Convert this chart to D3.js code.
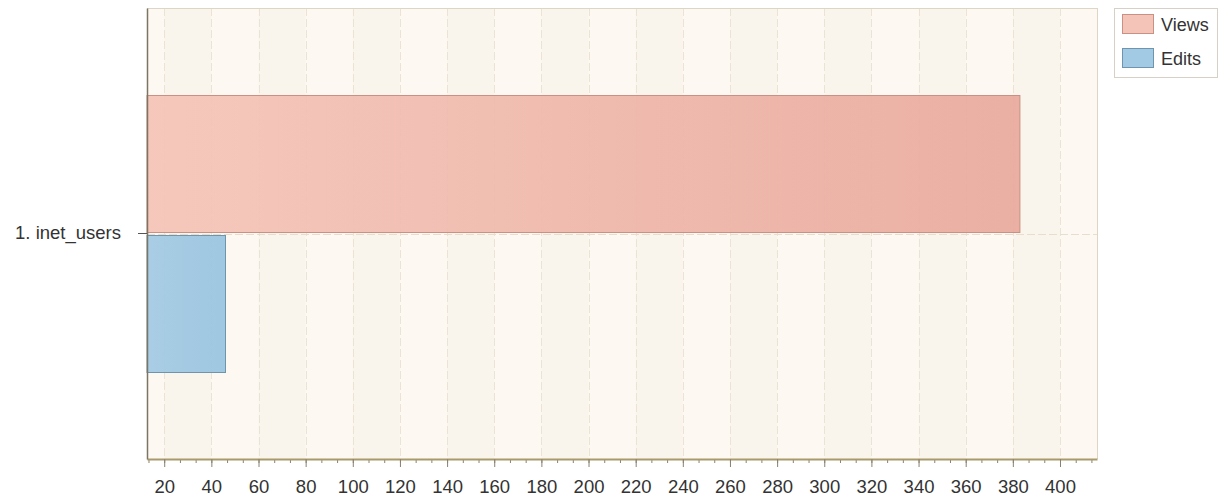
<!DOCTYPE html>
<html><head><meta charset="utf-8">
<script src="https://cdn.jsdelivr.net/npm/d3@7"></script>
<style>body{margin:0;background:#fff;} svg{display:block;}</style>
</head><body>
<svg id="chart" width="1221" height="500"></svg>
<script>
const categories = ["1. inet_users"];
const seriesNames = ["Views", "Edits"];
const views = [383];
const edits = [46];
const xMajorTicks = [20,40,60,80,100,120,140,160,180,200,220,240,260,280,300,320,340,360,380,400];
const xDomain = [12.7, 415.7];
const colors = {Views: ["#f5c4b8", "#e9aa9d"], Edits: ["#a2cae4", "#99c4e0"]};
const strokes = {Views: "#c99083", Edits: "#6e95ad"};

(function(){
const svg = d3.select("#chart");
const pLeft = 147, pRight = 1097, pTop = 8, pBottom = 459;
const font = "'Liberation Sans', Arial, sans-serif";
const x = d3.scaleLinear().domain(xDomain).range([pLeft, pRight]);
const y = d3.scaleBand().domain(categories).range([pTop, pBottom]).paddingInner(0).paddingOuter(0.314);
const ys = d3.scaleBand().domain(seriesNames).range([0, y.bandwidth()]).paddingInner(0.022);

const defs = svg.append("defs");
seriesNames.forEach((s,i)=>{
  const g = defs.append("linearGradient").attr("id","grad"+i).attr("x1","0%").attr("x2","100%");
  g.append("stop").attr("offset","0%").attr("stop-color",colors[s][0]);
  g.append("stop").attr("offset","100%").attr("stop-color",colors[s][1]);
});

svg.append("rect").attr("x",pLeft).attr("y",pTop).attr("width",pRight-pLeft).attr("height",pBottom-pTop).attr("fill","#fdf9f2");
const bounds = [xDomain[0], ...xMajorTicks, xDomain[1]];
for (let i=0;i<bounds.length-1;i++){
  if (i%2===1) svg.append("rect").attr("x",x(bounds[i])).attr("y",pTop).attr("width",x(bounds[i+1])-x(bounds[i])).attr("height",pBottom-pTop).attr("fill","#faf5ec");
}
svg.append("g").selectAll("line").data(xMajorTicks).join("line")
  .attr("x1",d=>Math.round(x(d))+0.5).attr("x2",d=>Math.round(x(d))+0.5).attr("y1",pTop).attr("y2",pBottom)
  .attr("stroke","#ebe4d6").attr("stroke-width",1).attr("stroke-dasharray","8,3");
svg.append("g").selectAll("line").data(categories).join("line")
  .attr("x1",pLeft).attr("x2",pRight).attr("y1",d=>Math.round(y(d)+y.bandwidth()/2)+0.5).attr("y2",d=>Math.round(y(d)+y.bandwidth()/2)+0.5)
  .attr("stroke","#e6dfd0").attr("stroke-dasharray","8,3");
svg.append("line").attr("x1",pLeft).attr("x2",pRight).attr("y1",pTop+0.5).attr("y2",pTop+0.5).attr("stroke","#ddd5c5");
svg.append("line").attr("x1",pRight+0.5).attr("x2",pRight+0.5).attr("y1",pTop).attr("y2",pBottom).attr("stroke","#ddd5c5");

const data = [{s:"Views", vals: views, i:0},{s:"Edits", vals: edits, i:1}];
data.forEach(ser=>{
  svg.append("g").selectAll("rect").data(categories).join("rect")
    .attr("x", x(xDomain[0]))
    .attr("y", (c)=>Math.round(y(c)+ys(ser.s))+0.5)
    .attr("width", (c,j)=>x(ser.vals[j])-x(xDomain[0]))
    .attr("height", Math.round(ys.bandwidth()))
    .attr("fill","url(#grad"+ser.i+")").attr("fill-opacity",0.93)
    .attr("stroke",strokes[ser.s]).attr("stroke-width",1);
});

const minorTicks = d3.range(0, 61).map(k=>40/3 + k*20/3).filter(v=>v>=xDomain[0]&&v<=xDomain[1]);
const gx = svg.append("g").attr("transform",`translate(0,${pBottom})`);
gx.call(d3.axisBottom(x).tickValues(minorTicks).tickSize(4).tickSizeOuter(0).tickFormat(""));
gx.selectAll(".tick line").attr("stroke","#8a8070");
gx.select(".domain").remove();
const gx2 = svg.append("g").attr("transform",`translate(0,${pBottom})`);
gx2.call(d3.axisBottom(x).tickValues(xMajorTicks).tickSize(8).tickSizeOuter(0).tickPadding(13).tickFormat(d3.format("d")));
gx2.select(".domain").attr("stroke","#a89a6a").attr("stroke-width",2);
gx2.selectAll(".tick line").attr("stroke","#8a8070");
gx2.selectAll(".tick text").attr("fill","#333").style("font-family",font).style("font-size","18.5px");

const gy = svg.append("g").attr("transform",`translate(${pLeft},0)`);
gy.call(d3.axisLeft(y).tickSize(9).tickSizeOuter(0).tickPadding(17));
gy.select(".domain").attr("stroke","#7d7563").attr("stroke-width",1.5);
gy.selectAll(".tick line").attr("stroke","#555");
gy.selectAll(".tick text").attr("fill","#333").style("font-family",font).style("font-size","18.5px");

const lg = svg.append("g");
lg.append("rect").attr("x",1114.5).attr("y",8.5).attr("width",103).attr("height",69).attr("fill","#fff").attr("stroke","#d6d0c6");
seriesNames.forEach((s,i)=>{
  lg.append("rect").attr("x",1122.5).attr("y",14.5+i*34).attr("width",31).attr("height",19)
    .attr("fill",colors[s][0]).attr("stroke",strokes[s]);
  lg.append("text").attr("x",1161).attr("y",31+i*34).text(s).attr("fill","#333")
    .style("font-family",font).style("font-size","18px");
});
})();
</script>
</body></html>
